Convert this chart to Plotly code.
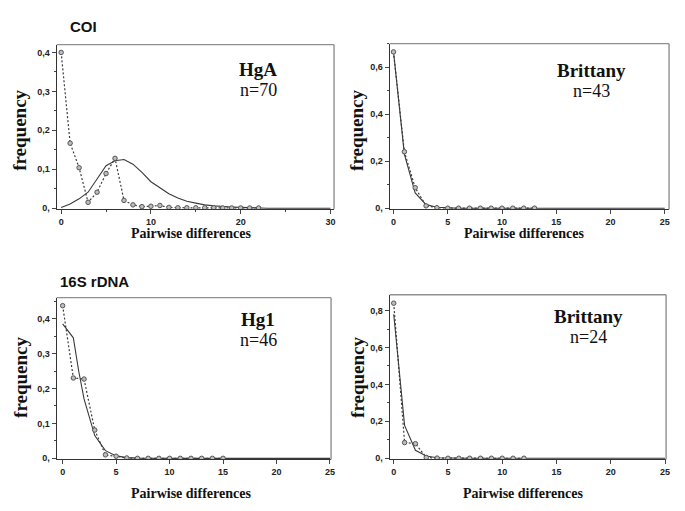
import plotly.graph_objects as go

# ---------------- data ----------------
# Panel 1: COI, HgA (n=70)
coi_hga_obs_x = list(range(0, 23))
coi_hga_obs_y = [0.400, 0.167, 0.104, 0.015, 0.041, 0.089, 0.128, 0.020, 0.0085, 0.004,
                 0.005, 0.007, 0.002, 0.001, 0.001, 0.001, 0.001, 0.001, 0.0005, 0.0005,
                 0.0005, 0.0005, 0.0005]
coi_hga_exp_x = list(range(0, 31))
coi_hga_exp_y = [0.002, 0.011, 0.024, 0.041, 0.075, 0.109, 0.122, 0.125, 0.113, 0.092,
                 0.068, 0.052, 0.037, 0.026, 0.018, 0.013, 0.0085, 0.006, 0.004, 0.003,
                 0.002, 0.001, 0.0005, 0, 0, 0, 0, 0, 0, 0, 0]

# Panel 2: COI, Brittany (n=43)
coi_bri_obs_x = list(range(0, 14))
coi_bri_obs_y = [0.665, 0.240, 0.087, 0.010, 0.002, 0, 0, 0, 0, 0, 0, 0, 0, 0]
coi_bri_exp_x = list(range(0, 26))
coi_bri_exp_y = [0.665, 0.230, 0.065, 0.015, 0.004, 0.001] + [0] * 20

# Panel 3: 16S rDNA, Hg1 (n=46)
s16_hg1_obs_x = list(range(0, 16))
s16_hg1_obs_y = [0.437, 0.230, 0.227, 0.081, 0.010, 0.006, 0.001, 0, 0, 0, 0, 0, 0, 0, 0, 0]
s16_hg1_exp_x = [0, 1, 1.5, 2, 3, 4, 5, 6, 7] + list(range(8, 26))
s16_hg1_exp_y = [0.385, 0.345, 0.25, 0.17, 0.065, 0.022, 0.007, 0.002, 0.0005] + [0] * 18

# Panel 4: 16S rDNA, Brittany (n=24)
s16_bri_obs_x = list(range(0, 13))
s16_bri_obs_y = [0.840, 0.085, 0.079, 0.004, 0.001, 0, 0, 0, 0, 0, 0, 0, 0]
s16_bri_exp_x = list(range(0, 26))
s16_bri_exp_y = [0.78, 0.178, 0.043, 0.012, 0.003, 0.001] + [0] * 20

panel_names = ["HgA", "Brittany", "Hg1", "Brittany"]
panel_n = ["n=70", "n=43", "n=46", "n=24"]
section_titles = ["COI", "16S rDNA"]

# ---------------- figure ----------------
W, H = 685, 511
def px(x): return x / W
def py(y): return 1 - y / H

LINE = "#3a3a3a"
AXIS = "#333333"
FRAME = "#8f8f8f"

panels = [
    dict(obs=(coi_hga_obs_x, coi_hga_obs_y), exp=(coi_hga_exp_x, coi_hga_exp_y),
         box=(57, 336, 45, 211), xr=[-0.5, 30.4], yr=[-0.003, 0.42],
         xt=[0, 10, 20, 30], xminor=5, yt=[0, 0.1, 0.2, 0.3, 0.4], yminor=0.05,
         lab=(260, 70, 91), ylab=(20, 131), xlab=(192, 235)),
    dict(obs=(coi_bri_obs_x, coi_bri_obs_y), exp=(coi_bri_exp_x, coi_bri_exp_y),
         box=(392, 673, 44, 211), xr=[-0.35, 25.4], yr=[-0.005, 0.70],
         xt=[0, 5, 10, 15, 20, 25], xminor=None, yt=[0, 0.2, 0.4, 0.6], yminor=0.1,
         lab=(595, 71, 92), ylab=(359, 131), xlab=(527, 235)),
    dict(obs=(s16_hg1_obs_x, s16_hg1_obs_y), exp=(s16_hg1_exp_x, s16_hg1_exp_y),
         box=(57, 333, 300, 463), xr=[-0.56, 25.1], yr=[-0.003, 0.46],
         xt=[0, 5, 10, 15, 20, 25], xminor=None, yt=[0, 0.1, 0.2, 0.3, 0.4], yminor=0.05,
         lab=(260, 322, 343), ylab=(20, 380), xlab=(192, 497)),
    dict(obs=(s16_bri_obs_x, s16_bri_obs_y), exp=(s16_bri_exp_x, s16_bri_exp_y),
         box=(392, 670, 297, 463), xr=[-0.37, 25.1], yr=[-0.006, 0.886],
         xt=[0, 5, 10, 15, 20, 25], xminor=None, yt=[0, 0.2, 0.4, 0.6, 0.8], yminor=0.1,
         lab=(592, 319, 340), ylab=(359, 380), xlab=(526, 497)),
]

def fmt(v):
    if v == 0:
        return "0,"
    return ("%g" % v).replace(".", ",")

SERIF = "Liberation Serif, Times New Roman, serif"
SANS = "Liberation Sans, Arial, sans-serif"

fig = go.Figure()
annotations = []
shapes = []
layout = {}

def ann(x, y, text, font, **kw):
    d = dict(x=px(x), y=py(y), xref="paper", yref="paper", text=text, showarrow=False,
             xanchor="center", yanchor="middle", font=font)
    d.update(kw)
    annotations.append(d)

for i, p in enumerate(panels):
    k = "" if i == 0 else str(i + 1)
    xa, ya = "x" + k, "y" + k
    fig.add_trace(go.Scatter(x=p["exp"][0], y=p["exp"][1], xaxis=xa, yaxis=ya,
                             mode="lines", line=dict(color=LINE, width=1.1),
                             showlegend=False, hoverinfo="skip"))
    fig.add_trace(go.Scatter(x=p["obs"][0], y=p["obs"][1], xaxis=xa, yaxis=ya,
                             mode="lines+markers",
                             line=dict(color=LINE, width=1.2, dash="2px,2px"),
                             marker=dict(symbol="circle", size=4.5, color="#bdbdbd",
                                         line=dict(color="#555", width=1)),
                             showlegend=False, hoverinfo="skip"))
    x0, x1, y0, y1 = p["box"]
    tickfont = dict(family=SANS, size=9, color="#222", weight="bold")
    xaxis = dict(domain=[px(x0), px(x1)], range=p["xr"], anchor=ya,
                 tickvals=p["xt"], ticktext=[str(v) for v in p["xt"]],
                 ticks="outside", ticklen=4, tickcolor="#444", tickfont=tickfont,
                 showline=True, linecolor=AXIS, linewidth=1.1,
                 showgrid=False, zeroline=False, fixedrange=True)
    if p["xminor"]:
        xaxis["minor"] = dict(dtick=p["xminor"], ticklen=2, tickcolor="#444", ticks="outside")
    yaxis = dict(domain=[py(y1), py(y0)], range=p["yr"], anchor=xa,
                 tickvals=p["yt"], ticktext=[fmt(v) for v in p["yt"]],
                 ticks="outside", ticklen=4, tickcolor="#444", tickfont=tickfont,
                 showline=True, linecolor=AXIS, linewidth=1.1,
                 minor=dict(dtick=p["yminor"], ticklen=2, tickcolor="#444", ticks="outside"),
                 showgrid=False, zeroline=False, fixedrange=True)
    layout["xaxis" + k] = xaxis
    layout["yaxis" + k] = yaxis
    # grey frame on top and right sides
    shapes.append(dict(type="line", xref=xa + " domain", yref=ya + " domain",
                       x0=0, x1=1, y0=1, y1=1, line=dict(color=FRAME, width=1.4)))
    shapes.append(dict(type="line", xref=xa + " domain", yref=ya + " domain",
                       x0=1, x1=1, y0=0, y1=1, line=dict(color=FRAME, width=1.4)))

    lx, ly1, ly2 = p["lab"]
    ann(lx, ly1, "<b>" + panel_names[i] + "</b>", dict(family=SERIF, size=19, color="#111"))
    ann(lx, ly2, panel_n[i], dict(family=SERIF, size=18, color="#111"))
    ann(p["ylab"][0], p["ylab"][1], "<b>frequency</b>", dict(family=SERIF, size=19, color="#111"),
        textangle=-90)
    ann(p["xlab"][0], p["xlab"][1], "<b>Pairwise differences</b>",
        dict(family=SERIF, size=14, color="#111"))

ann(68, 27, "<b>" + section_titles[0] + "</b>", dict(family=SANS, size=15, color="#111"), xanchor="left")
ann(58, 284, "<b>" + section_titles[1] + "</b>", dict(family=SANS, size=15, color="#111"), xanchor="left")

fig.update_layout(width=W, height=H, margin=dict(l=0, r=0, t=0, b=0),
                  paper_bgcolor="white", plot_bgcolor="white",
                  annotations=annotations, shapes=shapes, **layout)
# remove the default page margin so the figure fills the window exactly
fig.write_html("out.html", config={"displayModeBar": False},
               post_script="document.body.style.margin='0';document.body.style.overflow='hidden';")
